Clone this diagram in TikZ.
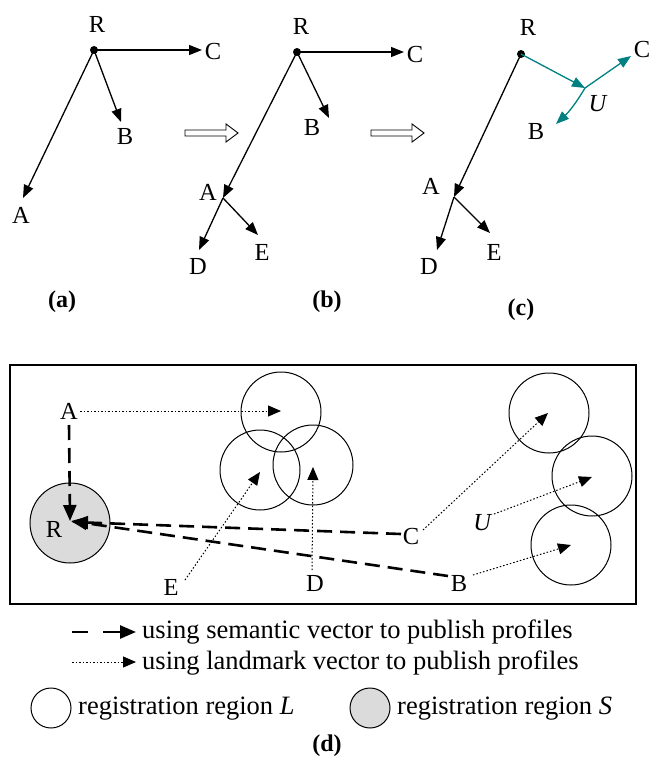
\documentclass[tikz,border=0pt]{standalone}
\usepackage{fontspec}
\setmainfont{Liberation Serif}
\usetikzlibrary{arrows.meta}
\definecolor{tealc}{RGB}{0,128,128}
\tikzset{
  lbl/.style={font=\fontsize{24.5}{28}\selectfont, inner sep=0pt},
  captxt/.style={font=\fontsize{24}{28}\selectfont\bfseries, inner sep=0pt},
  leg/.style={font=\fontsize{26.5}{30}\selectfont, inner sep=0pt, anchor=base west},
  dotnode/.style={circle, fill=black, inner sep=0pt, minimum size=8pt},
  vec/.style={line width=1.3pt, -{Triangle[length=13pt,width=10pt]}},
  tvec/.style={line width=1.3pt, tealc, -{Triangle[length=13pt,width=10pt]}},
  semv/.style={line width=2.6pt, dash pattern=on 15pt off 8pt, -{Triangle[length=16pt,width=13pt]}},
  landv/.style={line width=1pt, dash pattern=on 1.5pt off 2pt, -{Triangle[length=13pt,width=11pt]}},
  region/.style={circle, draw, line width=1pt, minimum size=80pt, inner sep=0pt},
  regs/.style={region, fill=black!14},
  hollow/.style={draw, line width=0.9pt, fill=white}
}
\begin{document}
\begin{tikzpicture}[x=1pt,y=-1pt]
\useasboundingbox (0,0) rectangle (649,775);
% ---------- (a)
\node[dotnode] (Ra) at (94,50) {};
\node[lbl] (RaL) at (97,24) {R};
\coordinate (Cat) at (202,50);
\coordinate (Bat) at (121,122);
\coordinate (Aat) at (23,198);
\node[lbl] (CaL) at (213,52) {C};
\node[lbl] (BaL) at (125,137) {B};
\node[lbl] (AaL) at (21,215) {A};
\draw[vec] (Ra.center) -- (Cat);
\draw[vec] (Ra.center) -- (Bat);
\draw[vec] (Ra.center) -- (Aat);
\node[captxt] (capa) at (62,302) {(a)};
% hollow arrows
\draw[hollow] (185,130) -- (226,130) -- (226,124) -- (238,133) -- (226,142) -- (226,136) -- (185,136) -- cycle;
\draw[hollow] (371,130) -- (412,130) -- (412,124) -- (424,133) -- (412,142) -- (412,136) -- (371,136) -- cycle;
% ---------- (b)
\node[dotnode] (Rb) at (297,52) {};
\node[lbl] (RbL) at (301,26) {R};
\coordinate (Cbt) at (404,52);
\coordinate (Bbt) at (329,118);
\coordinate (Abt) at (223,198);
\coordinate (Dbt) at (199,250);
\coordinate (Ebt) at (258,235);
\node[lbl] (CbL) at (415,55) {C};
\node[lbl] (BbL) at (312,128) {B};
\node[lbl] (AbL) at (208,192) {A};
\node[lbl] (DbL) at (198,267) {D};
\node[lbl] (EbL) at (262,252) {E};
\draw[vec] (Rb.center) -- (Cbt);
\draw[vec] (Rb.center) -- (Bbt);
\draw[vec] (Rb.center) -- (Abt);
\draw[vec] (Abt) -- (Dbt);
\draw[vec] (Abt) -- (Ebt);
\node[captxt] (capb) at (327,302) {(b)};
% ---------- (c)
\node[dotnode] (Rc) at (521,54) {};
\node[lbl] (RcL) at (528,27) {R};
\coordinate (Act) at (454,197);
\coordinate (Dct) at (437,250);
\coordinate (Ect) at (490,233);
\coordinate (U) at (585,88);
\coordinate (Cct) at (631,56);
\coordinate (Bct) at (556,124);
\node[lbl] (AcL) at (431,186) {A};
\node[lbl] (DcL) at (429,267) {D};
\node[lbl] (EcL) at (494,252) {E};
\node[lbl] (CcL) at (642,50) {C};
\node[lbl] (BcL) at (536,132) {B};
\node[lbl] (UcL) at (598,104) {\textit{U}};
\draw[vec] (Rc.center) -- (Act);
\draw[vec] (Act) -- (Dct);
\draw[vec] (Act) -- (Ect);
\draw[tvec] (Rc.center) -- (U);
\draw[tvec] (U) -- (Cct);
\draw[tvec] (U) to[bend left=8] (Bct);
\node[captxt] (capc) at (521,310) {(c)};
% ---------- (d)
\node[draw, line width=1.2pt, minimum width=626pt, minimum height=239pt, inner sep=0pt] (frame) at (323,484.5) {};
\node[regs] (S) at (70,523) {};
\node[region] (L1) at (281,412) {};
\node[region] (L2) at (260,470) {};
\node[region] (L3) at (313,465) {};
\node[region] (L4) at (549,413) {};
\node[region] (L5) at (592,476) {};
\node[region] (L6) at (571,545) {};
\node[lbl] (dR) at (54,529) {R};
\node[lbl] (dA) at (69,411) {A};
\node[lbl] (dC) at (411,537) {C};
\node[lbl] (dB) at (459,584) {B};
\node[lbl] (dE) at (171,587) {E};
\node[lbl] (dD) at (315,583) {D};
\node[lbl] (dU) at (483,523) {\textit{U}};
\coordinate (Rtip) at (72,522);
\coordinate (Rtip2) at (71,521);
\coordinate (Rtop) at (70,521);
\coordinate (sA) at (69,425);
\coordinate (sC) at (401,534);
\coordinate (sB) at (448,576);
\draw[semv] (sA) -- (Rtop);
\draw[semv] (sC) -- (Rtip);
\draw[semv] (sB) -- (Rtip2);
\coordinate (t1) at (281,411);
\coordinate (t2) at (260,472);
\coordinate (t3) at (313,467);
\coordinate (t4) at (548,413);
\coordinate (t5) at (592,477);
\coordinate (t6) at (571,545);
\coordinate (oA) at (80,411);
\coordinate (oE) at (185,580);
\coordinate (oD) at (312,570);
\coordinate (oC) at (423,530);
\coordinate (oU) at (494,514);
\coordinate (oB) at (473,575);
\draw[landv] (oA) -- (t1);
\draw[landv] (oE) -- (t2);
\draw[landv] (oD) -- (t3);
\draw[landv] (oC) -- (t4);
\draw[landv] (oU) -- (t5);
\draw[landv] (oB) -- (t6);
% ---------- legend
\coordinate (l1a) at (72,632);
\coordinate (l1b) at (88,632);
\coordinate (l1c) at (103,632);
\coordinate (l1d) at (136,632);
\draw[line width=2.6pt] (l1a) -- (l1b);
\draw[line width=2.6pt, -{Triangle[length=16pt,width=13pt]}] (l1c) -- (l1d);
\node[leg] (leg1) at (142,638) {using semantic vector to publish profiles};
\coordinate (l2a) at (72,662);
\coordinate (l2b) at (136,662);
\draw[landv] (l2a) -- (l2b);
\node[leg] (leg2) at (142,669) {using landmark vector to publish profiles};
\node[circle, draw, line width=1pt, minimum size=40pt, inner sep=0pt] (legL) at (51,708) {};
\node[leg] (leg3) at (78,714) {registration region \textit{L}};
\node[circle, draw, fill=black!14, line width=1pt, minimum size=40pt, inner sep=0pt] (legS) at (370,708) {};
\node[leg] (leg4) at (397,714) {registration region \textit{S}};
\node[captxt] (capd) at (327,746) {(d)};
\end{tikzpicture}
\end{document}
